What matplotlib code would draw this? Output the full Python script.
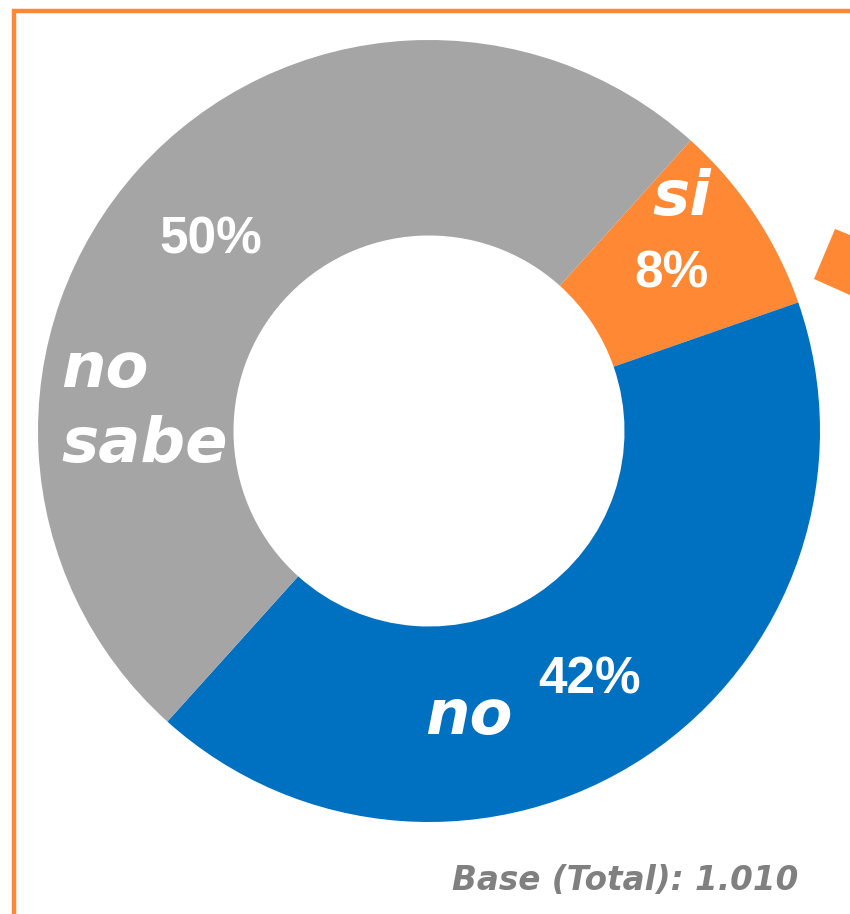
import matplotlib.pyplot as plt
from matplotlib.patches import Polygon

labels = ["si", "no", "no\nsabe"]
values = [8, 42, 50]
pct_labels = ["8%", "42%", "50%"]
colors = ["#FE8833", "#0070C0", "#A5A5A5"]
base_text = "Base (Total): 1.010"

W, H = 850, 914
fig = plt.figure(figsize=(W / 100, H / 100), dpi=100)
ax = fig.add_axes([0, 0, 1, 1])

# donut, pixel-space axes (y up)
cx, cy, r = 429, H - 431, 391
ax.pie(values, colors=colors, startangle=48, counterclock=False,
       radius=r, center=(cx, cy), frame=False,
       wedgeprops=dict(width=r * 0.5, linewidth=0))
ax.set_xlim(0, W)
ax.set_ylim(0, H)
ax.set_aspect("equal")
ax.axis("off")

cat_font = dict(family="DejaVu Sans", weight="bold", style="italic",
                color="white", fontsize=45)
pct_font = dict(family="Liberation Sans", weight="bold", color="white",
                fontsize=37)

# category labels (baseline positions in pixels from the top)
ax.text(682, H - 215, labels[0], ha="center", va="baseline", **cat_font)
ax.text(469, H - 734, labels[1], ha="center", va="baseline", **cat_font)
for line, yb in zip(labels[2].split("\n"), [387, 462]):
    ax.text(61, H - yb, line, ha="left", va="baseline", **cat_font)

# percentages
ax.text(672, H - 288, pct_labels[0], ha="center", va="baseline", **pct_font)
ax.text(590, H - 693, pct_labels[1], ha="center", va="baseline", **pct_font)
ax.text(211, H - 253, pct_labels[2], ha="center", va="baseline", **pct_font)

ax.text(798, H - 880, base_text, ha="right", va="center", color="#808080",
        family="DejaVu Sans", weight="bold", style="italic", fontsize=23.5)

# orange frame (left + top) and clipped marker at the right edge
ax.plot([14, 14, W], [0, H - 11, H - 11], color="#FE8833", lw=3.2,
        solid_joinstyle="miter", solid_capstyle="butt")
ax.add_patch(Polygon([(814, H - 279), (835, H - 229), (870, H - 243),
                      (850, H - 295)], closed=True, color="#FE8833", lw=0))

fig.savefig("out.png", dpi=100)
